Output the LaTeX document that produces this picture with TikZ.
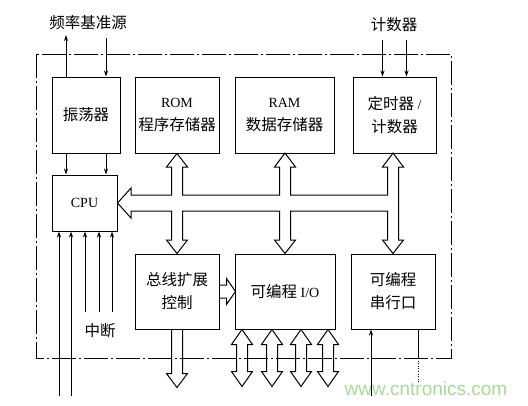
\documentclass[tikz,border=0pt]{standalone}
\usepackage{fontspec}
\setmainfont{Liberation Serif}
\newfontfamily\cjk{Noto Sans CJK SC}
\newfontfamily\wmfont{Liberation Sans}
\usetikzlibrary{arrows.meta,calc}
\definecolor{wm}{RGB}{170,215,155}
\newcommand\zh[1]{{\cjk\fontsize{15.5}{23}\selectfont #1}}
\begin{document}
\begin{tikzpicture}[x=1pt,y=-1pt,
  blk/.style={draw,line width=1pt,inner sep=0pt,align=center,
    font=\fontsize{14}{23}\selectfont},
  top/.style={blk,minimum height=76pt},
  bot/.style={blk,minimum height=75pt},
  arr/.style={line width=0.9pt,-{Stealth[length=6pt,width=4pt]}},
  ln/.style={line width=0.9pt},
  fat/.style={line width=1pt,line join=miter},
  frame/.style={line width=0.8pt,dash pattern=on 24pt off 3pt on 2pt off 3pt},
  lbl/.style={inner sep=0pt}]
\useasboundingbox (0,0) rectangle (528,405);

% outer frame
\draw[frame] (36,54) rectangle (451,358);

% boxes
\node[top,minimum width=68pt] (osc) at (86,115) {\zh{振荡器}};
\node[top,minimum width=84pt] (rom) at (177,115) {ROM\\\zh{程序存储器}};
\node[top,minimum width=99pt] (ram) at (284.5,115) {RAM\\\zh{数据存储器}};
\node[top,minimum width=83pt] (tmr) at (394.5,115) {\zh{定时器} /\\\zh{计数器}};
\node[blk,minimum width=65pt,minimum height=56pt] (cpu) at (84.5,203) {CPU};
\node[bot,minimum width=84pt] (busx) at (177,291.5) {\zh{总线扩展}\\\zh{控制}};
\node[bot,minimum width=100pt] (io) at (285,291.5) {\zh{可编程} I/O};
\node[bot,minimum width=84pt] (ser) at (393,291.5) {\zh{可编程}\\\zh{串行口}};

% labels
\node[lbl] (fref) at (88,23) {\zh{频率基准源}};
\node[lbl] (cnt) at (394,25) {\zh{计数器}};
\node[lbl] (irq) at (100,331) {\zh{中断}};
\node[lbl,text=wm,font=\wmfont\fontsize{19}{19}\selectfont] (wmk) at (426,389) {www.cntronics.com};

% oscillator arrows
\coordinate (fin) at (106,38);
\coordinate (fout) at (66,35);
\draw[arr] (osc.north -| fout) -- (fout);
\draw[arr] (fin) -- (osc.north -| fin);
\draw[arr] (osc.south -| fout) -- (cpu.north -| fout);
\draw[arr] (osc.south -| fin) -- (cpu.north -| fin);

% counter inputs
\coordinate (c1) at (382.5,40);
\coordinate (c2) at (406.5,40);
\draw[arr] (c1) -- (tmr.north -| c1);
\draw[arr] (c2) -- (tmr.north -| c2);

% CPU interrupt / input lines
\foreach \x in {59,71} {
  \coordinate (l\x) at (\x,396);
  \draw[arr] (l\x) -- (cpu.south -| l\x);
}
\foreach \x in {85,99,112} {
  \coordinate (s\x) at (\x,312);
  \draw[arr] (s\x) -- (cpu.south -| s\x);
}

% serial port lines
\coordinate (rx) at (371,396);
\coordinate (tx) at (418,358);
\coordinate (txe) at (418,383);
\draw[arr] (rx) -- (ser.south -| rx);
\draw[ln] (ser.south -| tx) -- (tx);
\draw[line width=0.6pt,dotted] (tx) -- (txe);

% system bus
\draw[fat] (cpu.east) -- (131,188) -- (131,195) -- (171.5,195) -- (171.5,167)
  -- (166.5,167) -- (rom.south) -- (187.5,167) -- (182.5,167) -- (182.5,195)
  -- (279.5,195) -- (279.5,167) -- (274.5,167) -- (285,153) -- (295.5,167)
  -- (290.5,167) -- (290.5,195) -- (387.5,195) -- (387.5,167) -- (382.5,167)
  -- (393,153) -- (403.5,167) -- (398.5,167) -- (398.5,240) -- (403.5,240)
  -- (ser.north) -- (382.5,240) -- (387.5,240) -- (387.5,211) -- (290.5,211)
  -- (290.5,240) -- (295.5,240) -- (io.north) -- (274.5,240) -- (279.5,240)
  -- (279.5,211) -- (182.5,211) -- (182.5,240) -- (187.5,240) -- (busx.north)
  -- (166.5,240) -- (171.5,240) -- (171.5,211) -- (131,211) -- (131,218) -- cycle;

% bus extension -> I/O
\draw[fat] ($(busx.east)+(0,-6.5)$) -- ++(7,0) -- ++(0,-6.5) -- ++(9,13)
  -- ++(-9,13) -- ++(0,-6.5) -- ++(-7,0);

% bus extension downward
\draw[fat] ($(busx.south)+(-5.5,0)$) -- ++(0,44) -- ++(-5,0) -- ++(10.5,14)
  -- ++(10.5,-14) -- ++(-5,0) -- ++(0,-44);

% I/O ports
\foreach \dx in {-43,-13,16,43} {
  \draw[fat] ($(io.south)+(\dx,0)$) -- ++(10.5,15) -- ++(-5,0) -- ++(0,27)
    -- ++(5,0) -- ++(-10.5,15) -- ++(-10.5,-15) -- ++(5,0) -- ++(0,-27)
    -- ++(-5,0) -- cycle;
}
\end{tikzpicture}
\end{document}
